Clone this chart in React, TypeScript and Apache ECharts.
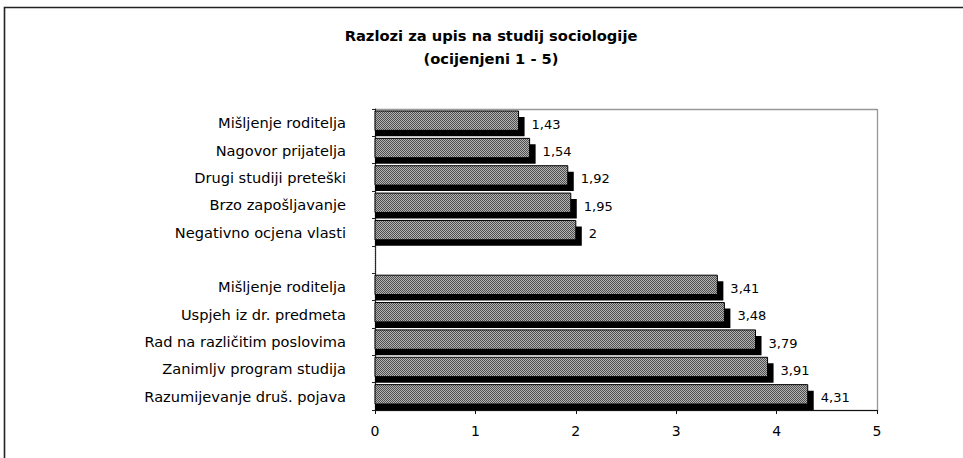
import React, { useEffect, useRef } from "react";
import * as echarts from "echarts";

const titleLines = ["Razlozi za upis na studij sociologije", "(ocijenjeni 1 - 5)"];
const groupALabels = [
  "Mišljenje roditelja",
  "Nagovor prijatelja",
  "Drugi studiji preteški",
  "Brzo zapošljavanje",
  "Negativno ocjena vlasti",
];
const groupAValues = [1.43, 1.54, 1.92, 1.95, 2];
const groupBLabels = [
  "Mišljenje roditelja",
  "Uspjeh iz dr. predmeta",
  "Rad na različitim poslovima",
  "Zanimljv program studija",
  "Razumijevanje druš. pojava",
];
const groupBValues = [3.41, 3.48, 3.79, 3.91, 4.31];
const xTicks = [0, 1, 2, 3, 4, 5];

const W = 963;
const H = 458;
const GRID = { left: 375, top: 109, right: 86, bottom: 48 };
const FONT = '"DejaVu Sans", "Liberation Sans", Arial, sans-serif';

function makePattern(): any {
  const c = document.createElement("canvas");
  c.width = 2;
  c.height = 2;
  const ctx = c.getContext("2d");
  if (!ctx) return "#808080";
  ctx.fillStyle = "#b4b4b4";
  ctx.fillRect(0, 0, 2, 2);
  ctx.fillStyle = "#4e4e4e";
  ctx.fillRect(0, 0, 1, 1);
  ctx.fillRect(1, 1, 1, 1);
  return { image: c, repeat: "repeat" };
}

export default function App() {
  const ref = useRef<HTMLDivElement>(null);
  useEffect(() => {
    if (!ref.current) return;
    const chart = echarts.init(ref.current, null, { renderer: "svg" });
    const categories = [...groupALabels, "", ...groupBLabels];
    const data: [number, number][] = [];
    groupAValues.forEach((v, i) => data.push([v, i]));
    groupBValues.forEach((v, i) => data.push([v, groupALabels.length + 1 + i]));
    const gw = W - GRID.left - GRID.right;
    const gh = H - GRID.top - GRID.bottom;
    const pattern = makePattern();

    chart.setOption({
      animation: false,
      backgroundColor: "#ffffff",
      title: {
        text: titleLines.join("\n"),
        left: 486,
        top: 19,
        textAlign: "center",
        textStyle: {
          fontFamily: FONT,
          fontSize: 14.7,
          fontWeight: "bold",
          color: "#000",
          lineHeight: 23,
        },
      },
      grid: { left: GRID.left, top: GRID.top, right: GRID.right, bottom: GRID.bottom, containLabel: false },
      xAxis: {
        type: "value",
        min: xTicks[0],
        max: xTicks[xTicks.length - 1],
        interval: 1,
        splitLine: { show: false },
        axisLine: { show: true, lineStyle: { color: "#111", width: 1.2 } },
        axisTick: { show: true, length: 4, lineStyle: { color: "#111" } },
        axisLabel: {
          margin: 14,
          fontFamily: FONT,
          fontSize: 14,
          color: "#000",
          formatter: (v: number) => String(v),
        },
      },
      yAxis: {
        type: "category",
        inverse: true,
        data: categories,
        axisLine: { show: true, lineStyle: { color: "#222", type: [1, 1], width: 1.2 } },
        axisTick: { show: true, length: 3, lineStyle: { color: "#222" } },
        axisLabel: {
          margin: 29,
          fontFamily: FONT,
          fontSize: 14.6,
          color: "#000",
        },
        splitLine: { show: false },
      },
      graphic: [
        {
          type: "rect",
          z: -1,
          silent: true,
          shape: { x: 4.5, y: 7.5, width: 1000, height: 500 },
          style: { fill: "none", stroke: "#222", lineWidth: 1.6 },
        },
        {
          type: "rect",
          z: -1,
          silent: true,
          shape: { x: GRID.left + 0.5, y: GRID.top + 0.5, width: gw, height: gh },
          style: { fill: "none", stroke: "#333", lineWidth: 1.3, lineDash: [1, 1] },
        },
      ],
      series: [
        {
          type: "custom",
          encode: { x: 0, y: 1 },
          data,
          clip: false,
          renderItem: (params: any, api: any) => {
            const v = api.value(0);
            const idx = api.value(1);
            const start = api.coord([0, idx]);
            const end = api.coord([v, idx]);
            const slot = api.size([0, 1])[1];
            const top = start[1] - slot / 2 + 2;
            const h = slot - 8;
            const w = end[0] - start[0];
            return {
              type: "group",
              children: [
                {
                  type: "rect",
                  shape: { x: start[0], y: top + 6, width: w + 6, height: h },
                  style: { fill: "#000" },
                },
                {
                  type: "rect",
                  shape: { x: start[0], y: top, width: w, height: h },
                  style: { fill: pattern, stroke: "#000", lineWidth: 1 },
                },
                {
                  type: "text",
                  x: end[0] + 13,
                  y: start[1] + 1.5,
                  style: {
                    text: String(v).replace(".", ","),
                    fill: "#000",
                    font: `13px ${FONT}`,
                    align: "left",
                    verticalAlign: "middle",
                  },
                },
              ],
            };
          },
        },
      ],
    });
    return () => chart.dispose();
  }, []);
  return (
    <div
      ref={ref}
      style={{ position: "fixed", left: 0, top: 0, width: W, height: H, background: "#fff" }}
    />
  );
}
